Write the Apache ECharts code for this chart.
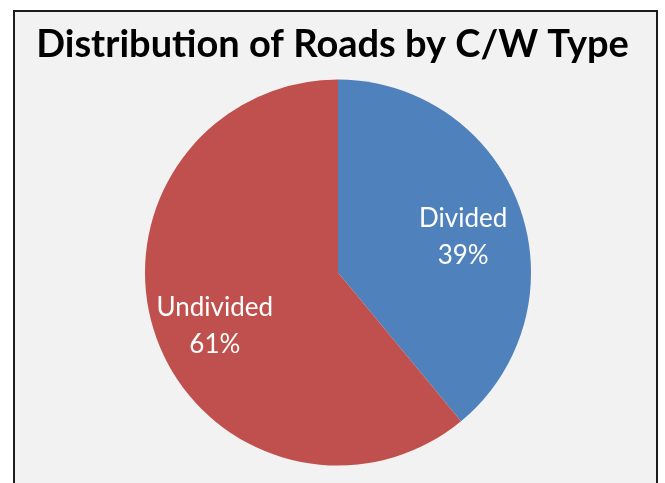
<!DOCTYPE html>
<html>
<head>
<meta charset="utf-8">
<script src="https://cdn.jsdelivr.net/npm/echarts@6/dist/echarts.min.js"></script>
<style>
  html, body { margin: 0; padding: 0; background: #ffffff; overflow: hidden; }
  #frame { position: absolute; left: 13px; top: 10px; width: 641px; height: 490px;
           border: 2px solid #1c1c1c; background: #f2f2f2; }
  #chart { position: absolute; left: 0; top: 0; width: 665px; height: 483px; }
</style>
</head>
<body>
<div id="frame"></div>
<div id="chart"></div>
<script>
const titleText = 'Distribution of Roads by C/W Type';
const categories = ['Divided', 'Undivided'];
const values = [39, 61];
const colors = ['#4f81bd', '#c0504d'];

const pieData = categories.map((c, i) => ({ name: c, value: values[i], itemStyle: { color: colors[i] } }));

const chart = echarts.init(document.getElementById('chart'), null, { renderer: 'canvas' });
chart.setOption({
  backgroundColor: 'transparent',
  animation: false,
  title: {
    text: titleText,
    left: 'center',
    top: 21,
    textStyle: { fontFamily: 'Lato', fontWeight: 'bold', fontSize: 38, color: '#000000' }
  },
  series: [
    {
      type: 'pie',
      center: [338, 272.5],
      radius: [0, 193],
      startAngle: 90,
      clockwise: true,
      silent: true,
      label: { show: false },
      labelLine: { show: false },
      itemStyle: { borderWidth: 0 },
      data: pieData
    },
    {
      type: 'pie',
      center: [338, 272.5],
      radius: [65, 193],
      startAngle: 90,
      clockwise: true,
      silent: true,
      itemStyle: { color: 'rgba(0,0,0,0)' },
      label: {
        show: true,
        position: 'inside',
        formatter: p => p.name + '\n' + p.value + '%',
        color: '#ffffff',
        fontFamily: 'Lato',
        fontSize: 26,
        lineHeight: 37,
        align: 'center',
        offset: [1, 9]
      },
      labelLine: { show: false },
      data: categories.map((c, i) => ({ name: c, value: values[i] }))
    }
  ]
});
</script>
</body>
</html>
